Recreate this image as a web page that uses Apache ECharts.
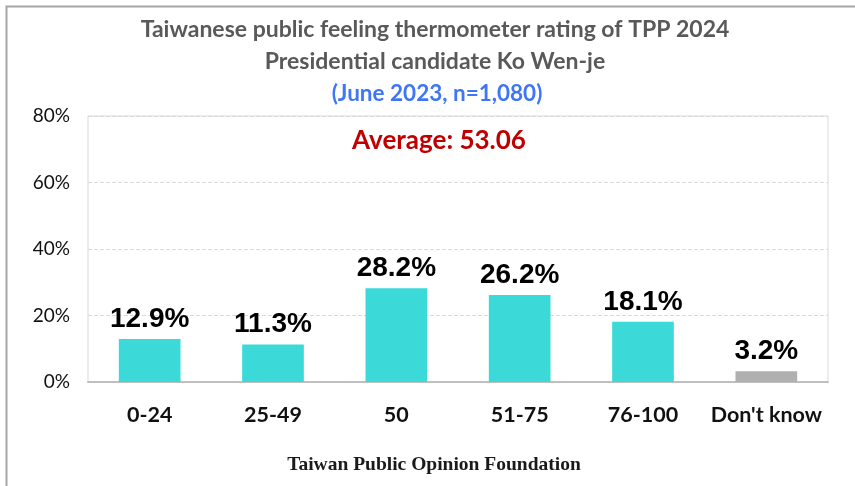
<!DOCTYPE html>
<html>
<head>
<meta charset="utf-8">
<script src="https://cdn.jsdelivr.net/npm/echarts@6/dist/echarts.min.js"></script>
<style>
  html, body { margin: 0; padding: 0; background: #fff; }
  #main { width: 855px; height: 486px; }
</style>
</head>
<body>
<div id="main"></div>
<script>
  // data
  const categories = ['0-24', '25-49', '50', '51-75', '76-100', "Don't know"]
  const shares = [12.9, 11.3, 28.2, 26.2, 18.1, 3.2]
  const barColors = ['#3cd9d9', '#3cd9d9', '#3cd9d9', '#3cd9d9', '#3cd9d9', '#b0b0b0']
  const yTicks = [0, 20, 40, 60, 80]
  const average = '53.06'

  const myChart = echarts.init(document.getElementById('main'))
  const option = {
    animation: false,
    title: [
      {
        text: 'Taiwanese public feeling thermometer rating of TPP 2024\nPresidential candidate Ko Wen-je',
        left: 430,
        top: 9,
        textAlign: 'center',
        textStyle: {
          fontFamily: 'Lato',
          fontWeight: 'bold',
          fontSize: 23,
          lineHeight: 32,
          color: '#595959'
        }
      },
      {
        text: '(June 2023, n=1,080)',
        left: 432,
        top: 77,
        textAlign: 'center',
        textStyle: {
          fontFamily: 'Lato',
          fontWeight: 'bold',
          fontSize: 22.5,
          color: '#3f76f5'
        }
      },
      {
        text: 'Average: ' + average,
        left: 434,
        top: 123,
        textAlign: 'center',
        textStyle: {
          fontFamily: 'Lato',
          fontWeight: 'bold',
          fontSize: 26,
          color: '#c00000'
        }
      },
      {
        text: 'Taiwan Public Opinion Foundation',
        left: 429,
        top: 450,
        textAlign: 'center',
        textStyle: {
          fontFamily: 'Liberation Serif',
          fontWeight: 'bold',
          fontSize: 19.5,
          color: '#1a1a1a'
        }
      }
    ],
    graphic: [
      {
        // outer frame, only top and left edges are visible in the crop
        type: 'rect',
        left: 4,
        top: 4,
        shape: { width: 1000, height: 1000 },
        style: { fill: 'none', stroke: '#a6a6a6', lineWidth: 2 },
        silent: true
      }
    ],
    grid: {
      left: 88,
      right: 27,
      top: 116,
      bottom: 104,
      show: true,
      borderColor: '#d9d9d9',
      borderWidth: 1
    },
    xAxis: {
      type: 'category',
      data: categories,
      axisLine: { lineStyle: { color: '#bfbfbf', width: 2 } },
      axisTick: { inside: true, length: 7, lineStyle: { color: '#bfbfbf' } },
      axisLabel: {
        interval: 0,
        margin: 22,
        fontFamily: 'Lato',
        fontWeight: 'bold',
        fontSize: 21.5,
        color: '#111'
      }
    },
    yAxis: {
      type: 'value',
      min: yTicks[0],
      max: yTicks[yTicks.length - 1],
      interval: 20,
      axisLine: { show: false },
      axisTick: { show: false },
      splitLine: { lineStyle: { color: '#d9d9d9', type: 'dashed', width: 1 } },
      axisLabel: {
        margin: 18,
        fontFamily: 'Lato',
        fontSize: 19,
        color: '#111',
        formatter: '{value}%'
      }
    },
    series: [
      {
        type: 'bar',
        barWidth: '50%',
        data: shares.map(function (v, i) {
          return { value: v, itemStyle: { color: barColors[i] } }
        }),
        label: {
          show: true,
          position: 'top',
          distance: 6,
          fontFamily: 'Liberation Sans',
          fontWeight: 'bold',
          fontSize: 28,
          color: '#000',
          formatter: function (p) { return p.value.toFixed(1) + '%' }
        }
      }
    ]
  }
  myChart.setOption(option)
</script>
</body>
</html>
